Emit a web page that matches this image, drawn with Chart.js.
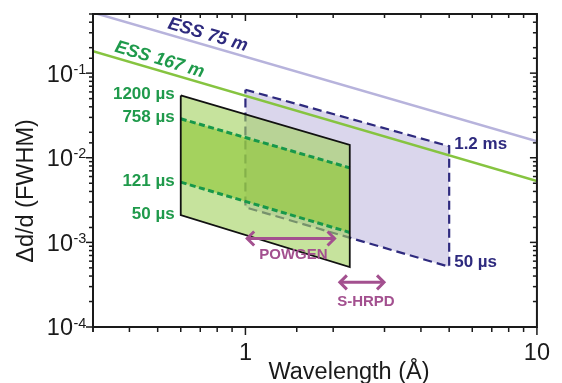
<!DOCTYPE html>
<html>
<head>
<meta charset="utf-8">
<script src="https://cdn.jsdelivr.net/npm/chart.js@4.4.1/dist/chart.umd.min.js"></script>
<style>
  html, body { margin: 0; padding: 0; background: #fff; }
  canvas { display: block; }
</style>
</head>
<body>
<canvas id="chart" width="562" height="383"></canvas>
<script>
// Resolution lines for the two moderator distances (wavelength in Å -> Δd/d)
const essLambda = [0.3, 10];
const ess75 = [0.52, 0.0157];
const ess167 = [0.182, 0.0053];

// Long-pulse band (167 m): edges for each pulse length
const bandLambda = [0.6, 2.28];
const band1200us = [0.0546, 0.0142];
const band758us = [0.0289, 0.0076];
const band121us = [0.00515, 0.00131];
const band50us = [0.0021, 0.00051];
const bandLabels = ['1200 µs', '758 µs', '121 µs', '50 µs'];

// Short-instrument band (75 m): 1.2 ms and 50 µs edges
const shortLambda = [1, 5];
const short1200us = [0.0637, 0.0137];
const short50us = [0.0026, 0.000515];
const shortLabels = ['1.2 ms', '50 µs'];

// Existing instruments: wavelength span and height of the double arrow
const powgenSpan = [1.01, 2.03];
const powgenLevel = 0.00111;
const shrpdSpan = [2.1, 3.0];
const shrpdLevel = 0.000337;

// Axis ranges and labelled ticks
const xRange = [0.3, 10];
const yRange = [1e-4, 0.5];
const xTickLabels = [1, 10];
const yTickExponents = [-4, -3, -2, -1];

const NAVY = '#2e2a7e';
const GREEN_TXT = '#1f9a4b';
const MAGENTA = '#a3508f';
const INK = '#1a1a1a';
const FONT = '"Liberation Sans", Arial, sans-serif';

const pts = (xs, ys) => xs.map((x, i) => ({ x, y: ys[i] }));
const quad = (xs, top, bottom) => [
  { x: xs[0], y: top[0] }, { x: xs[1], y: top[1] },
  { x: xs[1], y: bottom[1] }, { x: xs[0], y: bottom[0] },
  { x: xs[0], y: top[0] }
];
const NONE = 'rgba(0,0,0,0)';
const series = (data, extra) => Object.assign({
  data, pointRadius: 0, borderWidth: 0, borderColor: NONE,
  fill: false, tension: 0, clip: 0
}, extra);

const datasets = [
  // 0, 1: 75 m band fill
  series(pts(shortLambda, short1200us), { order: 10, fill: 1, backgroundColor: '#dad6ec' }),
  series(pts(shortLambda, short50us), { order: 9 }),
  // 2: 75 m band outline
  series(quad(shortLambda, short1200us, short50us), {
    order: 8, borderColor: NAVY, borderWidth: 2.2, borderDash: [9, 5]
  }),
  // 3, 4: moderator resolution lines
  series(pts(essLambda, ess75), { order: 7, borderColor: '#b7b3dc', borderWidth: 2.5 }),
  series(pts(essLambda, ess167), { order: 6, borderColor: '#86c440', borderWidth: 2.5 }),
  // 5, 6: 167 m band fill (1200 µs to 50 µs)
  series(pts(bandLambda, band1200us), { order: 5, fill: 6, backgroundColor: 'rgba(163,210,97,0.62)' }),
  series(pts(bandLambda, band50us), { order: 4 }),
  // 7, 8: inner 758 µs to 121 µs band
  series(pts(bandLambda, band758us), {
    order: 3, fill: 8, backgroundColor: 'rgba(142,198,52,0.6)',
    borderColor: '#17984a', borderWidth: 3, borderDash: [6, 3.5]
  }),
  series(pts(bandLambda, band121us), {
    order: 2, borderColor: '#17984a', borderWidth: 3, borderDash: [6, 3.5]
  }),
  // 9: 167 m band outline
  series(quad(bandLambda, band1200us, band50us), {
    order: 1, borderColor: '#111', borderWidth: 1.8
  })
];

const isDecade = v => Math.abs(Math.log10(v) - Math.round(Math.log10(v))) < 1e-6;

const decor = {
  id: 'decor',
  afterDraw(chart) {
    const { ctx, chartArea: a, scales: { x, y } } = chart;
    const seg = (x1, y1, x2, y2) => { ctx.beginPath(); ctx.moveTo(x1, y1); ctx.lineTo(x2, y2); ctx.stroke(); };
    ctx.save();

    // tick marks: outward on bottom/left, inward on top/right
    ctx.strokeStyle = INK;
    ctx.lineWidth = 1.5;
    x.ticks.forEach(t => {
      const px = x.getPixelForValue(t.value);
      const m = isDecade(t.value);
      seg(px, a.bottom, px, a.bottom + (m ? 8 : 5));
      seg(px, a.top, px, a.top + (m ? 7 : 4));
    });
    y.ticks.forEach(t => {
      const py = y.getPixelForValue(t.value);
      const m = isDecade(t.value);
      seg(a.left - (m ? 7 : 4), py, a.left, py);
      seg(a.right, py, a.right - (m ? 7 : 4), py);
    });

    // frame
    ctx.lineWidth = 2;
    ctx.strokeRect(a.left, a.top, a.right - a.left, a.bottom - a.top);

    // y tick labels as powers of ten
    ctx.fillStyle = INK;
    yTickExponents.forEach(e => {
      const py = y.getPixelForValue(Math.pow(10, e));
      ctx.font = '23.5px ' + FONT;
      ctx.textAlign = 'right';
      ctx.textBaseline = 'alphabetic';
      ctx.fillText('10', a.left - 20, py + 8.4);
      ctx.font = '14.5px ' + FONT;
      ctx.textAlign = 'left';
      ctx.fillText('-' + (-e), a.left - 19.5, py + 0.5);
    });

    // axis titles
    ctx.font = '23.5px ' + FONT;
    ctx.textAlign = 'center';
    ctx.textBaseline = 'alphabetic';
    ctx.fillText('Wavelength (Å)', 349, 378.5);
    ctx.save();
    ctx.translate(33.3, 191);
    ctx.rotate(-Math.PI / 2);
    ctx.fillText('Δd/d (FWHM)', 0, 0);
    ctx.restore();

    // labels along the resolution lines
    const lineLabel = (text, xs, ys, at, color) => {
      const x1 = x.getPixelForValue(xs[0]), y1 = y.getPixelForValue(ys[0]);
      const x2 = x.getPixelForValue(xs[1]), y2 = y.getPixelForValue(ys[1]);
      const ang = Math.atan2(y2 - y1, x2 - x1);
      const px = x.getPixelForValue(at);
      const py = y1 + (y2 - y1) * (px - x1) / (x2 - x1);
      ctx.save();
      ctx.translate(px + 10.5 * Math.sin(ang), py - 10.5 * Math.cos(ang));
      ctx.rotate(ang);
      ctx.font = 'italic bold 18px ' + FONT;
      ctx.fillStyle = color;
      ctx.textAlign = 'center';
      ctx.textBaseline = 'middle';
      ctx.fillText(text, 0, 0);
      ctx.restore();
    };
    lineLabel('ESS 75 m', essLambda, ess75, 0.726, NAVY);
    lineLabel('ESS 167 m', essLambda, ess167, 0.496, GREEN_TXT);

    // pulse-length labels at the left edge of the 167 m band
    ctx.font = 'bold 17px ' + FONT;
    ctx.fillStyle = GREEN_TXT;
    ctx.textAlign = 'right';
    ctx.textBaseline = 'alphabetic';
    const bx = x.getPixelForValue(bandLambda[0]) - 6;
    [band1200us, band758us, band121us, band50us].forEach((edge, i) => {
      ctx.fillText(bandLabels[i], bx, y.getPixelForValue(edge[0]) + 3.5);
    });

    // pulse-length labels at the right edge of the 75 m band
    ctx.fillStyle = NAVY;
    ctx.textAlign = 'left';
    const sx = x.getPixelForValue(shortLambda[1]) + 5;
    ctx.fillText(shortLabels[0], sx, y.getPixelForValue(short1200us[1]) + 3.3);
    ctx.fillText(shortLabels[1], sx, y.getPixelForValue(short50us[1]));

    // instrument ranges as double arrows
    const arrow = (span, level, text, dx, dy) => {
      const x1 = x.getPixelForValue(span[0]);
      const x2 = x.getPixelForValue(span[1]);
      const py = y.getPixelForValue(level);
      ctx.strokeStyle = MAGENTA;
      ctx.lineWidth = 3;
      ctx.lineJoin = 'miter';
      seg(x1 + 1, py, x2 - 1, py);
      ctx.beginPath();
      ctx.moveTo(x1 + 7.5, py - 7); ctx.lineTo(x1 + 0.5, py); ctx.lineTo(x1 + 7.5, py + 7);
      ctx.stroke();
      ctx.beginPath();
      ctx.moveTo(x2 - 7.5, py - 7); ctx.lineTo(x2 - 0.5, py); ctx.lineTo(x2 - 7.5, py + 7);
      ctx.stroke();
      ctx.font = 'bold 15px ' + FONT;
      ctx.fillStyle = MAGENTA;
      ctx.textAlign = 'center';
      ctx.textBaseline = 'alphabetic';
      ctx.fillText(text, (x1 + x2) / 2 + dx, py + dy);
    };
    arrow(powgenSpan, powgenLevel, 'POWGEN', 2.5, 20.7);
    arrow(shrpdSpan, shrpdLevel, 'S-HRPD', 4, 23.3);

    ctx.restore();
  }
};

new Chart(document.getElementById('chart'), {
  type: 'line',
  data: { datasets },
  options: {
    responsive: false,
    animation: false,
    events: [],
    layout: { padding: { top: 14, right: 22, left: 0, bottom: 0 } },
    plugins: { legend: { display: false }, tooltip: { enabled: false } },
    scales: {
      x: {
        type: 'logarithmic',
        min: xRange[0],
        max: xRange[1],
        grid: { display: false, drawTicks: false },
        border: { display: false },
        ticks: {
          autoSkip: false,
          maxRotation: 0,
          minRotation: 0,
          padding: 12,
          color: INK,
          font: { family: FONT, size: 23.5 },
          callback: v => {
            const hit = xTickLabels.find(t => Math.abs(t - v) < 1e-9);
            return hit === undefined ? '' : String(hit);
          }
        },
        afterFit: s => { s.height = 56; }
      },
      y: {
        type: 'logarithmic',
        min: yRange[0],
        max: yRange[1],
        grid: { display: false, drawTicks: false },
        border: { display: false },
        ticks: { display: false },
        afterFit: s => { s.width = 93; }
      }
    }
  },
  plugins: [decor]
});
</script>
</body>
</html>
